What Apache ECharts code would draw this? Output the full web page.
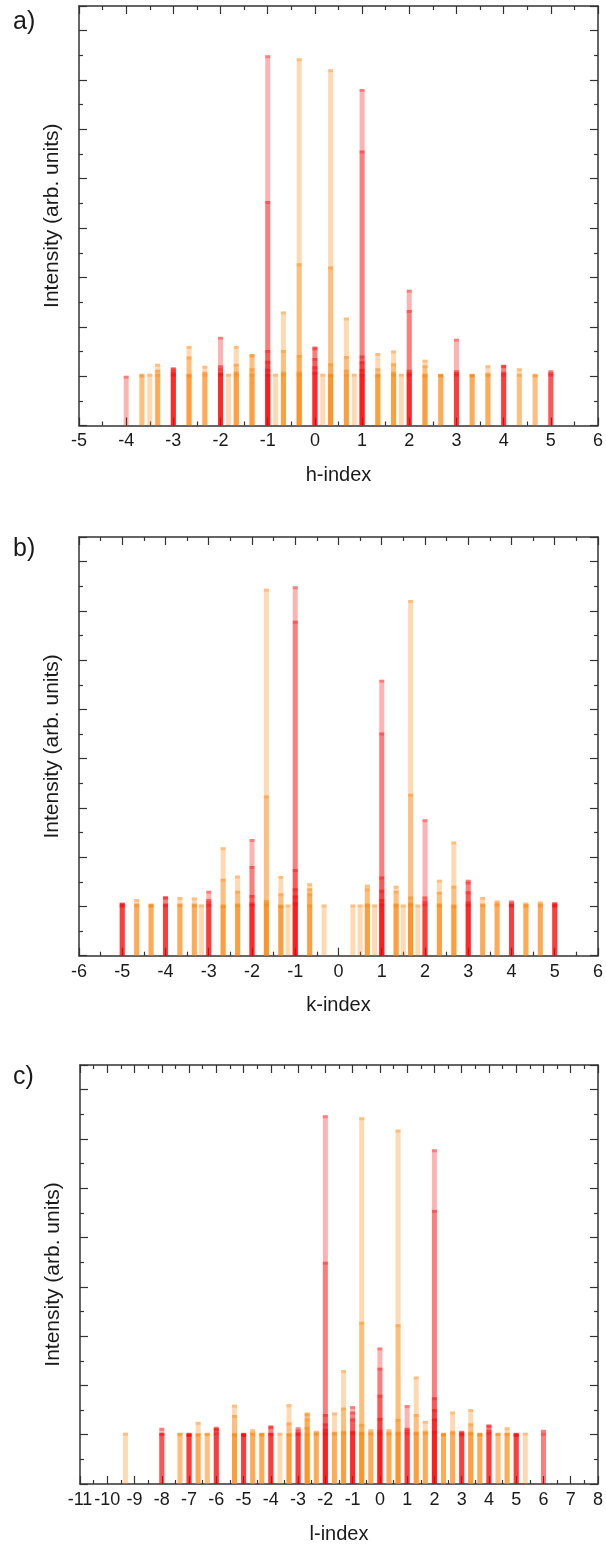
<!DOCTYPE html>
<html>
<head>
<meta charset="utf-8">
<script src="https://cdn.jsdelivr.net/npm/echarts/dist/echarts.min.js"></script>
<style>
  html, body { margin: 0; padding: 0; background: #fff; }
  #chart { width: 606px; height: 1546px; }
</style>
</head>
<body>
<div id="chart"></div>
<script>
// Peak positions along each reciprocal-space scan and the intensities of the
// reflections that coincide at each position (each one drawn from zero).

// a) h-scan
const hPositions = [-4, -3.667, -3.5, -3.333, -3, -2.667, -2.333, -2, -1.833, -1.667, -1.333, -1,
  -0.833, -0.667, -0.333, 0, 0.167, 0.333, 0.667, 0.833, 1, 1.333, 1.667, 1.833, 2, 2.333,
  2.667, 3, 3.333, 3.667, 4, 4.333, 4.667, 5];
const hPeaks = [
  [1.01], [1.05, 1.03], [1.05], [1.25, 1.13, 1.05], [1.18, 1.16, 1.12, 1.08, 1.05],
  [1.61, 1.40, 1.05, 1.03], [1.21, 1.09, 1.05], [1.80, 1.22, 1.16, 1.08, 1.05], [1.05],
  [1.61, 1.25, 1.09, 1.05], [1.45, 1.44, 1.16, 1.05], [7.50, 4.55, 1.53, 1.31, 1.15, 1.05],
  [1.05], [2.31, 1.53, 1.09, 1.05], [7.44, 3.29, 1.43, 1.09, 1.05], [1.60, 1.58, 1.37, 1.20, 1.09],
  [1.05], [7.22, 3.22, 1.26, 1.05, 1.03], [2.19, 1.41, 1.13, 1.05], [1.05],
  [6.82, 5.57, 1.42, 1.30, 1.15, 1.05], [1.47, 1.16, 1.05, 1.03], [1.52, 1.26, 1.09, 1.05], [1.05],
  [2.75, 2.34, 1.13, 1.08, 1.05], [1.33, 1.22, 1.05, 1.03], [1.05, 1.04, 1.03], [1.76, 1.12, 1.08, 1.05],
  [1.05, 1.04, 1.03], [1.22, 1.07, 1.04], [1.23, 1.22, 1.09, 1.05], [1.16, 1.05], [1.05, 1.03],
  [1.12, 1.08, 1.05]
];

// b) k-scan
const kPositions = [-5, -4.667, -4.333, -4, -3.667, -3.333, -3.167, -3, -2.667, -2.333, -2, -1.667,
  -1.333, -1.167, -1, -0.667, -0.333, 0.333, 0.5, 0.667, 0.833, 1, 1.333, 1.5, 1.667, 1.833, 2,
  2.333, 2.667, 3, 3.333, 3.667, 4, 4.333, 4.667, 5];
const kPeaks = [
  [1.08, 1.07, 1.05, 1.03], [1.15, 1.06, 1.04], [1.06, 1.05, 1.03], [1.21, 1.19, 1.06, 1.04],
  [1.19, 1.06, 1.04], [1.18, 1.06, 1.04], [1.04], [1.32, 1.15, 1.10, 1.05], [2.20, 1.56, 1.04, 1.02],
  [1.63, 1.32, 1.06, 1.04], [2.37, 1.82, 1.23, 1.08, 1.05], [7.45, 3.25, 1.13, 1.08, 1.05],
  [1.62, 1.27, 1.04, 1.02], [1.04], [7.50, 6.80, 1.76, 1.37, 1.22, 1.08], [1.47, 1.37, 1.27, 1.04],
  [1.04], [1.04], [1.04], [1.44, 1.37, 1.06, 1.04], [1.04], [5.60, 4.53, 1.61, 1.34, 1.15, 1.06],
  [1.42, 1.32, 1.06, 1.04], [1.04], [7.22, 3.29, 1.20, 1.08, 1.05], [1.04], [2.77, 1.20, 1.12, 1.06],
  [1.54, 1.30, 1.06, 1.04], [2.32, 1.42, 1.04, 1.02], [1.54, 1.50, 1.31, 1.10, 1.05], [1.19, 1.06, 1.04],
  [1.12, 1.08, 1.05], [1.12, 1.08, 1.05, 1.04], [1.08, 1.05, 1.03], [1.10, 1.06, 1.04],
  [1.09, 1.07, 1.05, 1.03]
];

// c) l-scan
const lPositions = [-9.333, -8, -7.333, -7, -6.667, -6.333, -6, -5.333, -5, -4.667, -4.333, -4,
  -3.667, -3.333, -3, -2.667, -2.333, -2, -1.667, -1.333, -1, -0.667, -0.333, 0, 0.333, 0.667, 1,
  1.333, 1.667, 2, 2.333, 2.667, 3, 3.333, 3.667, 4, 4.333, 4.667, 5, 5.333, 6];
const lPeaks = [
  [1.04], [1.14, 1.04, 1.03], [1.04, 1.03], [1.04, 1.03, 1.02, 1.01], [1.26, 1.03, 1.02], [1.04, 1.03],
  [1.16, 1.14, 1.12, 1.05], [1.61, 1.40, 1.03, 1.02], [1.04, 1.03, 1.02, 1.01], [1.11, 1.05, 1.03],
  [1.04, 1.03, 1.02], [1.19, 1.17, 1.04, 1.03], [1.04], [1.62, 1.25, 1.03, 1.02], [1.15, 1.10, 1.05, 1.03],
  [1.45, 1.43, 1.33, 1.16, 1.04], [1.08, 1.05, 1.03], [7.48, 4.51, 1.42, 1.23, 1.12, 1.05],
  [1.45, 1.06, 1.04], [2.31, 1.55, 1.08, 1.05], [1.58, 1.47, 1.33, 1.08, 1.05],
  [7.44, 3.29, 1.22, 1.06, 1.04], [1.11, 1.06, 1.04], [2.77, 2.36, 1.81, 1.34, 1.10, 1.05],
  [1.11, 1.06, 1.04], [7.19, 3.24, 1.32, 1.06, 1.04], [1.60, 1.14, 1.10, 1.05], [2.18, 1.42, 1.06, 1.04],
  [1.28, 1.08, 1.05], [6.79, 5.56, 1.76, 1.52, 1.33, 1.08], [1.04, 1.03, 1.02], [1.47, 1.08, 1.05],
  [1.08, 1.06, 1.04, 1.02], [1.52, 1.23, 1.06, 1.04], [1.04, 1.03, 1.02], [1.21, 1.19, 1.10, 1.05],
  [1.04, 1.03], [1.15, 1.04, 1.03], [1.04, 1.03, 1.02, 1.01], [1.04], [1.10, 1.04]
];

const panelLabels = ['a)', 'b)', 'c)'];
const axisNames = ['h-index', 'k-index', 'l-index'];
const xRanges = [[-5, 6], [-6, 6], [-11, 8]];
const yName = 'Intensity (arb. units)';

const RED = 'rgba(255,0,0,0.3)';
const ORANGE = 'rgba(255,128,0,0.3)';
const FONT = 'Liberation Sans, Arial, sans-serif';
const INK = '#333';

const grids = [
  { left: 79, top: 6, width: 519, height: 419.5 },
  { left: 79, top: 537, width: 519, height: 418.7 },
  { left: 80, top: 1065, width: 518, height: 419 }
];

// one item per reflection: [position, intensity, integer-index flag]
function flatten(pos, peaks) {
  const out = [];
  pos.forEach((x, i) => {
    const whole = Math.abs(x - Math.round(x)) < 0.01 ? 1 : 0;
    peaks[i].forEach(v => out.push([x, v, whole]));
  });
  return out;
}
const panelData = [
  flatten(hPositions, hPeaks),
  flatten(kPositions, kPeaks),
  flatten(lPositions, lPeaks)
];

// translucent bar from zero with a slightly darker cap on top
function renderPeak(params, api) {
  const x = api.value(0), v = api.value(1);
  const base = api.coord([x, 0]);
  const top = api.coord([x, v]);
  const w = 5;
  const fill = api.value(2) ? RED : ORANGE;
  return {
    type: 'group',
    children: [
      { type: 'rect', shape: { x: base[0] - w / 2, y: top[1], width: w, height: base[1] - top[1] },
        style: { fill: fill } },
      { type: 'rect', shape: { x: base[0] - w / 2, y: top[1], width: w, height: 3 },
        style: { fill: fill } }
    ]
  };
}

const tickCommon = {
  axisLine: { show: true, onZero: false, lineStyle: { color: INK, width: 1.5 } },
  axisTick: { show: true, inside: true, length: 8, lineStyle: { color: INK, width: 1.2 } },
  minorTick: { show: true, splitNumber: 2, length: 4, lineStyle: { color: INK, width: 1.2 } },
  splitLine: { show: false },
  minorSplitLine: { show: false }
};

const xAxis = [], yAxis = [], series = [], graphic = [];
grids.forEach((g, i) => {
  const [xmin, xmax] = xRanges[i];
  xAxis.push(Object.assign({
    type: 'value', gridIndex: i, position: 'bottom', min: xmin, max: xmax, interval: 1,
    name: axisNames[i], nameLocation: 'middle', nameGap: 40,
    nameTextStyle: { fontSize: 20, color: '#1a1a1a', fontFamily: FONT },
    axisLabel: { show: true, margin: 7, fontSize: 18, color: '#1a1a1a', fontFamily: FONT }
  }, tickCommon));
  xAxis.push(Object.assign({
    type: 'value', gridIndex: i, position: 'top', min: xmin, max: xmax, interval: 1,
    axisLabel: { show: false }
  }, tickCommon));
  yAxis.push(Object.assign({
    type: 'value', gridIndex: i, position: 'left', min: 0, max: 8.5, interval: 1,
    name: yName, nameLocation: 'middle', nameGap: 16,
    nameTextStyle: { fontSize: 21, color: '#1a1a1a', fontFamily: FONT },
    axisLabel: { show: false }
  }, tickCommon));
  yAxis.push(Object.assign({
    type: 'value', gridIndex: i, position: 'right', min: 0, max: 8.5, interval: 1,
    axisLabel: { show: false }
  }, tickCommon));
  series.push({
    type: 'custom', xAxisIndex: 2 * i, yAxisIndex: 2 * i, clip: true,
    renderItem: renderPeak, data: panelData[i], silent: true
  });
  graphic.push({
    type: 'text', left: 13, top: g.top + (i === 0 ? 4 : 0),
    style: { text: panelLabels[i], fontSize: 25, fill: '#1a1a1a', fontFamily: FONT }
  });
});

const chart = echarts.init(document.getElementById('chart'), null, { renderer: 'canvas' });
chart.setOption({
  animation: false,
  backgroundColor: '#fff',
  grid: grids,
  xAxis: xAxis,
  yAxis: yAxis,
  series: series,
  graphic: graphic
});
</script>
</body>
</html>
